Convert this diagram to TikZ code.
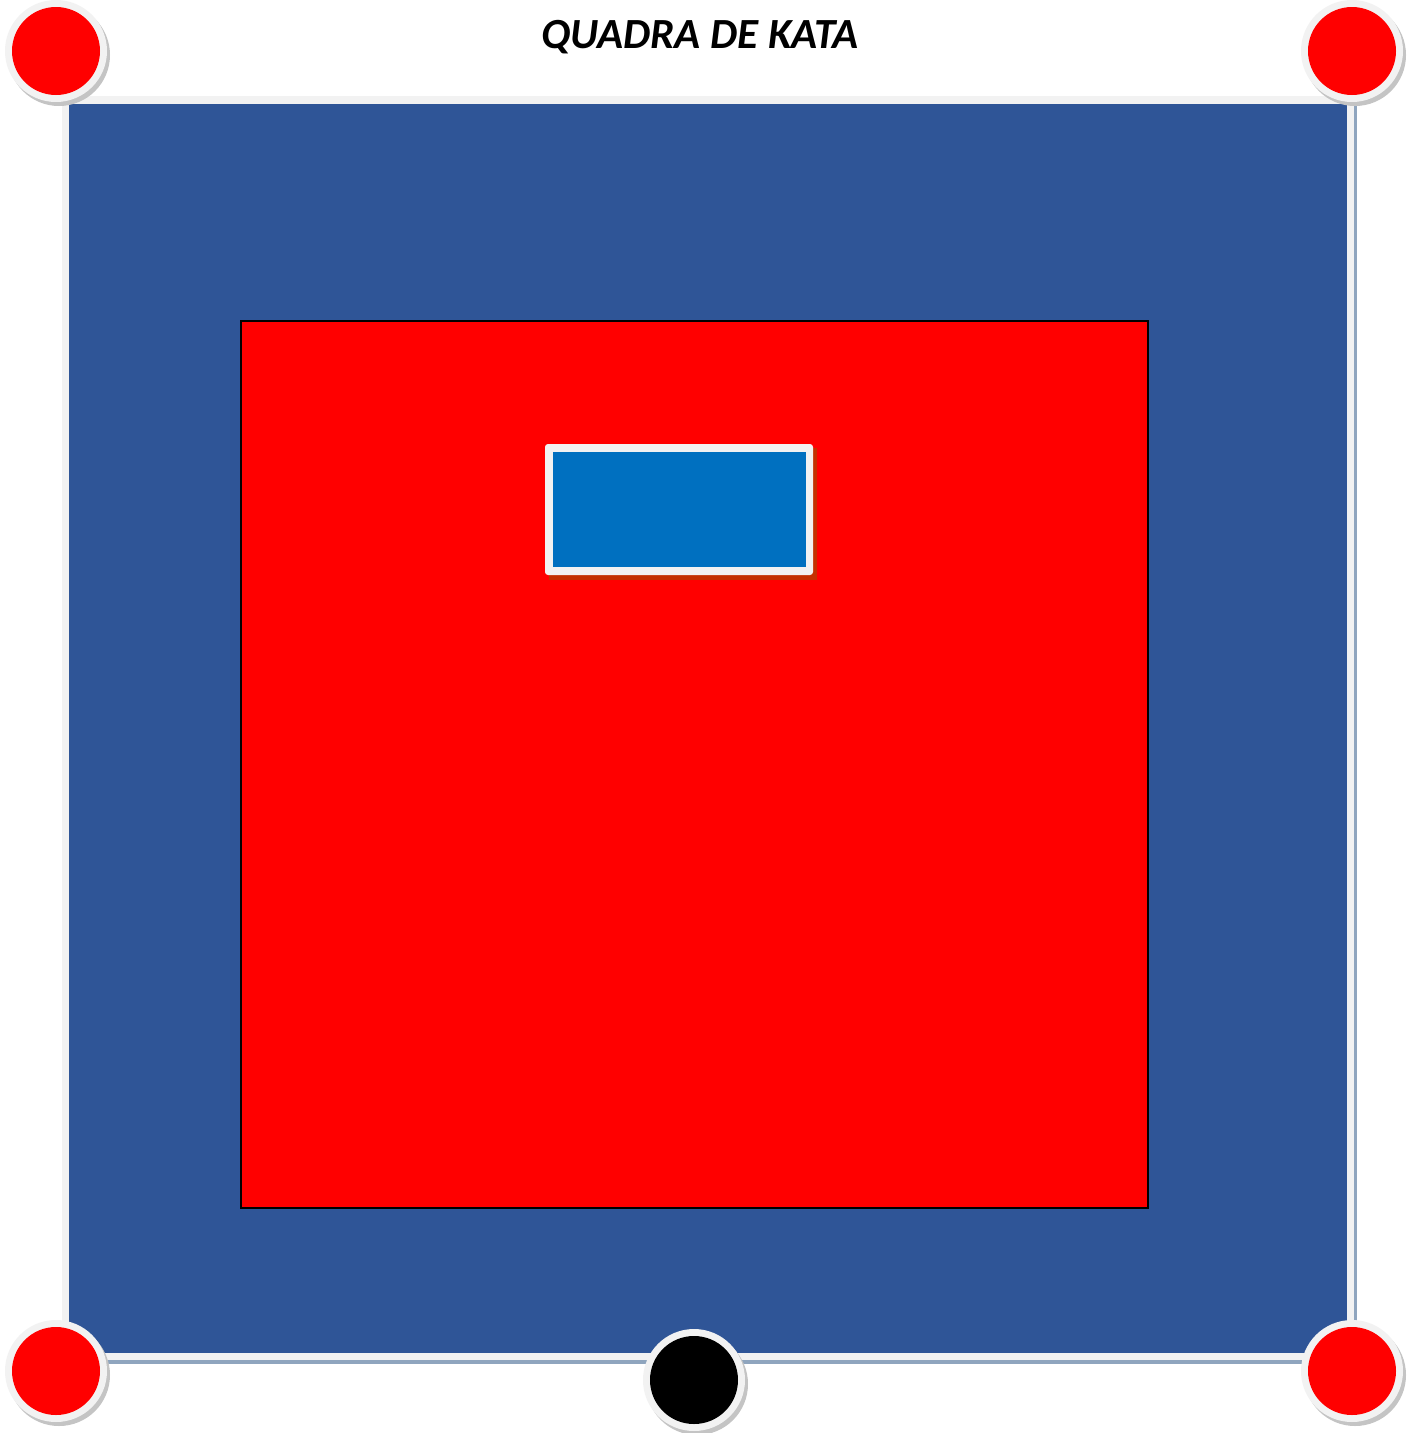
\documentclass[tikz,border=0pt]{standalone}
\usepackage{fontspec}
\setmainfont{Carlito}
\definecolor{matblue}{HTML}{2F5597}
\definecolor{ringgray}{HTML}{F2F2F2}
\definecolor{shadowgray}{HTML}{C4C4C4}
\definecolor{sqshadow}{HTML}{8FA5BE}
\definecolor{smallblue}{HTML}{0070C0}
\definecolor{darkred}{HTML}{C33000}
\tikzset{
  ringshadow/.style={fill=shadowgray},
  ring/.style={fill=ringgray},
}
\begin{document}
\begin{tikzpicture}[x=1pt,y=-1pt]
\useasboundingbox (0,0) rectangle (1416,1433);
\fill[white] (0,0) rectangle (1416,1433);
% outer mat
\fill[sqshadow] (66,100) rectangle (1357,1364);
\fill[ringgray] (62,96) rectangle (1354,1360);
\fill[matblue] (69,104) rectangle (1347,1353);
% competition area
\draw[fill=red,draw=black,line width=2pt] (240.5,320.5) rectangle (1147.5,1207.5);
% small blue rectangle
\fill[darkred] (549,448) rectangle (817,580);
\fill[ringgray,rounded corners=3pt] (545,444) rectangle (813,575);
\fill[smallblue] (553,452) rectangle (806,567);
% corner markers
\foreach \cx/\cy/\col in {56/51/red, 1352/51/red, 56/1371/red, 1352/1371/red, 694/1380/black}{
  \fill[ringshadow] (\cx+3,\cy+4) circle[radius=51];
  \fill[ring] (\cx,\cy) circle[radius=51];
  \fill[\col] (\cx,\cy) circle[radius=44];
}
\node[font=\fontsize{43}{50}\selectfont\bfseries\itshape] (title) at (700,37) {QUADRA DE KATA};
\end{tikzpicture}
\end{document}
